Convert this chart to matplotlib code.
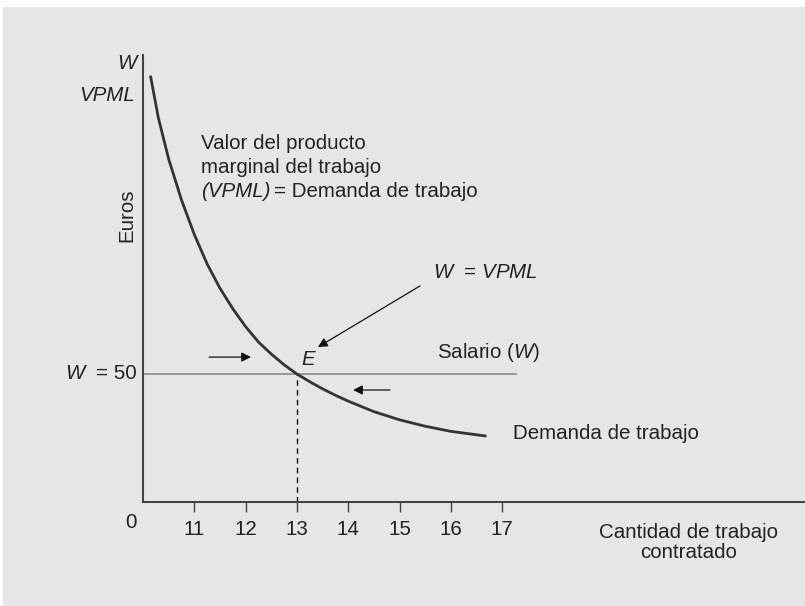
import matplotlib
matplotlib.use('Agg')
from matplotlib import pyplot as plt
from matplotlib.patches import Rectangle

plt.rcParams['font.family'] = ['Liberation Sans', 'DejaVu Sans']
plt.rcParams['mathtext.fontset'] = 'custom'
plt.rcParams['mathtext.rm'] = 'Liberation Sans'
plt.rcParams['mathtext.it'] = 'Liberation Sans:italic'

# demand curve (trabajo, euros)
trabajo = [10.15, 10.3, 10.5, 10.75, 11.0, 11.25, 11.5, 11.75, 12.0, 12.25, 12.5,
           12.75, 13.0, 13.25, 13.5, 13.75, 14.0, 14.5, 15.0, 15.5, 16.0, 16.67]
vpml = [166, 150, 134, 118, 104.5, 93, 83.5, 75.5, 68.5, 62.5, 57.8,
        53.6, 50, 47.0, 44.2, 41.7, 39.4, 35.3, 32.1, 29.6, 27.6, 25.8]
salario = 50
empleo = 13
salario_x = [10, 17.27]
xticks = [11, 12, 13, 14, 15, 16, 17]

txt = '#222222'
fs = 14.8

fig = plt.figure(figsize=(8.05, 6.06), dpi=100, facecolor='white')
fig.patches.append(Rectangle((3/805, 0), 1, 1 - 7/606, transform=fig.transFigure,
                             facecolor='#e6e6e6', edgecolor='none', zorder=-10))
ax = fig.add_axes([143/805, 104/606, 1 - 143/805, 447/606])
ax.set_facecolor('none')
ax.set_xlim(10, 10 + (805 - 143)/51.3)
ax.set_ylim(0, 174.6)

for s in ['top', 'right']:
    ax.spines[s].set_visible(False)
for s in ['left', 'bottom']:
    ax.spines[s].set_color('#444444')
    ax.spines[s].set_linewidth(1.5)

ax.set_xticks(xticks)
ax.set_xticklabels([str(t) for t in xticks])
ax.set_yticks([])
ax.tick_params(axis='x', direction='out', length=7, width=1, color='#444444',
               pad=6, labelsize=fs, labelcolor=txt)

ax.plot(salario_x, [salario, salario], color='#8a8a8a', lw=1.2)
ax.plot([empleo, empleo], [0, salario], color='#111111', lw=1, ls=(0, (4, 3)))
ax.plot(trabajo, vpml, color='#333333', lw=2, solid_joinstyle='round')

kw = dict(fontsize=fs, color=txt, clip_on=False)
ax.text(9.883, 171.1, 'W', style='italic', ha='right', va='center', **kw)
ax.text(9.844, 158.6, 'VPML', style='italic', ha='right', va='center', **kw)
ax.text(9.688, 112.1, 'Euros', rotation=90, ha='center', va='center', **kw)
ax.text(9.883, 50, '= 50', ha='right', va='center', **kw)
ax.text(8.87, 50, 'W', style='italic', ha='right', va='center', **kw)
ax.text(9.766, -8.2, '0', ha='center', va='center', **kw)

ax.text(11.13, 140.2, 'Valor del producto', ha='left', va='center', **kw)
ax.text(11.13, 130.5, 'marginal del trabajo', ha='left', va='center', **kw)
ax.text(11.13, 121.1, '(VPML)', style='italic', ha='left', va='center', **kw)
ax.text(12.56, 121.1, '= Demanda de trabajo', ha='left', va='center', **kw)

ax.text(15.65, 89.5, r'$W$  = $VPML$', ha='left', va='center', **kw)
ax.annotate('', xy=(13.41, 60.5), xytext=(15.40, 84.4),
            arrowprops=dict(arrowstyle='-|>', color='#111111', lw=0.9,
                            mutation_scale=14, shrinkA=0, shrinkB=0))
ax.text(13.22, 55.5, 'E', style='italic', ha='center', va='center', **kw)
ax.text(15.73, 58.2, r'Salario ($W$)', ha='left', va='center', **kw)

ax.annotate('', xy=(12.105, 56.6), xytext=(11.29, 56.6),
            arrowprops=dict(arrowstyle='-|>', color='#111111', lw=0.9,
                            mutation_scale=14, shrinkA=0, shrinkB=0))
ax.annotate('', xy=(14.094, 43.75), xytext=(14.815, 43.75),
            arrowprops=dict(arrowstyle='-|>', color='#111111', lw=0.9,
                            mutation_scale=14, shrinkA=0, shrinkB=0))

ax.text(17.21, 26.6, 'Demanda de trabajo', ha='left', va='center', **kw)
ax.text(20.64, -15.8, 'Cantidad de trabajo\ncontratado', ha='center', va='center',
        linespacing=1.05, **kw)

plt.savefig('out.png', dpi=100, facecolor=fig.get_facecolor())
